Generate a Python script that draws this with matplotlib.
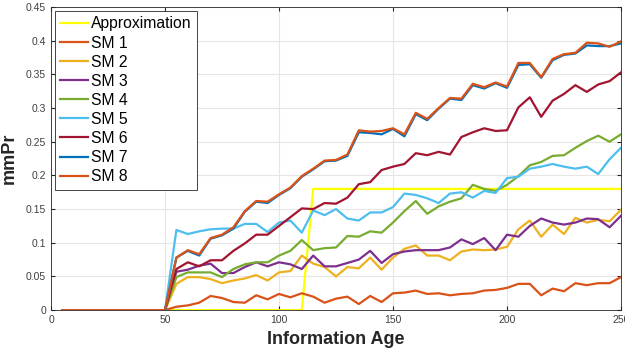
import numpy as np
import matplotlib.pyplot as plt
from matplotlib.ticker import FuncFormatter

plt.rcParams['font.family'] = ['Liberation Sans', 'DejaVu Sans']

# Information age: 5, 10, ..., 250 (all series are zero up to 50)
age = np.arange(5, 255, 5)
zeros = [0.0] * 10

approx = [0.0] * 22 + [0.18] * 28

sm1 = zeros + [0.005, 0.007, 0.011, 0.021, 0.018, 0.012, 0.011, 0.022, 0.016, 0.024,
               0.019, 0.025, 0.020, 0.011, 0.017, 0.020, 0.009, 0.021, 0.012, 0.025,
               0.026, 0.029, 0.024, 0.025, 0.022, 0.024, 0.025, 0.029, 0.030, 0.033,
               0.039, 0.039, 0.022, 0.032, 0.028, 0.040, 0.037, 0.040, 0.040, 0.049]
sm2 = zeros + [0.039, 0.049, 0.049, 0.046, 0.040, 0.044, 0.047, 0.052, 0.044, 0.056,
               0.058, 0.081, 0.069, 0.064, 0.050, 0.064, 0.062, 0.078, 0.060, 0.078,
               0.091, 0.096, 0.081, 0.081, 0.074, 0.087, 0.090, 0.089, 0.090, 0.094,
               0.120, 0.133, 0.109, 0.127, 0.113, 0.137, 0.130, 0.134, 0.132, 0.149]
sm3 = zeros + [0.057, 0.060, 0.066, 0.069, 0.055, 0.055, 0.064, 0.071, 0.065, 0.071,
               0.068, 0.061, 0.081, 0.065, 0.065, 0.070, 0.075, 0.088, 0.070, 0.083,
               0.087, 0.089, 0.089, 0.089, 0.093, 0.105, 0.098, 0.107, 0.089, 0.112,
               0.109, 0.125, 0.136, 0.130, 0.127, 0.130, 0.136, 0.135, 0.123, 0.140]
sm4 = zeros + [0.049, 0.056, 0.056, 0.056, 0.049, 0.061, 0.068, 0.071, 0.071, 0.081,
               0.088, 0.104, 0.089, 0.092, 0.093, 0.110, 0.109, 0.117, 0.115, 0.130,
               0.147, 0.162, 0.143, 0.154, 0.161, 0.166, 0.186, 0.180, 0.177, 0.186,
               0.199, 0.215, 0.220, 0.229, 0.230, 0.241, 0.251, 0.259, 0.250, 0.261]
sm5 = zeros + [0.119, 0.113, 0.117, 0.120, 0.121, 0.121, 0.128, 0.128, 0.116, 0.130,
               0.133, 0.115, 0.148, 0.141, 0.150, 0.136, 0.133, 0.145, 0.145, 0.153,
               0.173, 0.171, 0.166, 0.159, 0.173, 0.175, 0.167, 0.177, 0.174, 0.196,
               0.198, 0.210, 0.213, 0.217, 0.213, 0.210, 0.213, 0.202, 0.224, 0.241]
sm6 = zeros + [0.061, 0.071, 0.065, 0.074, 0.074, 0.088, 0.099, 0.112, 0.112, 0.125,
               0.138, 0.151, 0.150, 0.159, 0.158, 0.167, 0.187, 0.190, 0.208, 0.213,
               0.217, 0.233, 0.230, 0.235, 0.231, 0.257, 0.264, 0.270, 0.266, 0.267,
               0.301, 0.316, 0.287, 0.311, 0.321, 0.334, 0.324, 0.335, 0.340, 0.353]
sm7 = zeros + [0.078, 0.088, 0.081, 0.106, 0.111, 0.121, 0.146, 0.161, 0.159, 0.171,
               0.181, 0.198, 0.209, 0.221, 0.222, 0.229, 0.264, 0.263, 0.261, 0.269,
               0.258, 0.291, 0.282, 0.299, 0.314, 0.312, 0.334, 0.329, 0.337, 0.330,
               0.364, 0.365, 0.345, 0.371, 0.379, 0.381, 0.393, 0.392, 0.392, 0.396]
sm8 = zeros + [0.078, 0.089, 0.083, 0.107, 0.112, 0.123, 0.147, 0.162, 0.161, 0.172,
               0.182, 0.199, 0.210, 0.222, 0.223, 0.231, 0.267, 0.265, 0.266, 0.270,
               0.261, 0.293, 0.284, 0.300, 0.315, 0.314, 0.336, 0.331, 0.338, 0.332,
               0.367, 0.367, 0.346, 0.373, 0.380, 0.382, 0.397, 0.396, 0.391, 0.399]

series = [sm1, sm2, sm3, sm4, sm5, sm6, sm7, sm8]
names = ['SM 1', 'SM 2', 'SM 3', 'SM 4', 'SM 5', 'SM 6', 'SM 7', 'SM 8']
colors = ['#D95319', '#EDB120', '#7E2F8E', '#77AC30', '#4DBEEE', '#A2142F',
          '#0072BD', '#D95319']

fig = plt.figure(figsize=(6.25, 3.52), dpi=100)
ax = fig.add_axes([0.0816, 0.119, 0.912, 0.861])

ax.plot(age, approx, color='#FFFF00', lw=1.6, label='Approximation')
for vals, name, col in zip(series, names, colors):
    ax.plot(age, vals, color=col, lw=1.6, label=name)

ax.set_xlim(0, 250)
ax.set_ylim(0, 0.45)
ax.set_xticks(np.arange(0, 251, 50))
ax.set_yticks(np.arange(0, 0.451, 0.05))
ax.yaxis.set_major_formatter(FuncFormatter(lambda v, p: '%g' % round(v, 2)))
ax.grid(True, color='#e6e6e6', lw=0.8)
ax.set_axisbelow(True)
ax.tick_params(direction='in', labelsize=7.5, colors='#262626', length=3,
               top=True, right=True, labelcolor='#404040')
for s in ax.spines.values():
    s.set_color('#262626')
    s.set_linewidth(0.6)

ax.set_xlabel('Information Age', fontsize=13, fontweight='bold', color='#262626',
              labelpad=4)
ax.set_ylabel('mmPr', fontsize=13, fontweight='bold', color='#262626', labelpad=6)

leg = ax.legend(loc='upper left', fontsize=11.3, fancybox=False, framealpha=1,
                edgecolor='#262626', handlelength=1.75, handletextpad=0.2,
                labelspacing=0.26, borderpad=0.35, borderaxespad=0.25)
leg.get_frame().set_linewidth(0.6)

fig.savefig('out.png', dpi=100)
